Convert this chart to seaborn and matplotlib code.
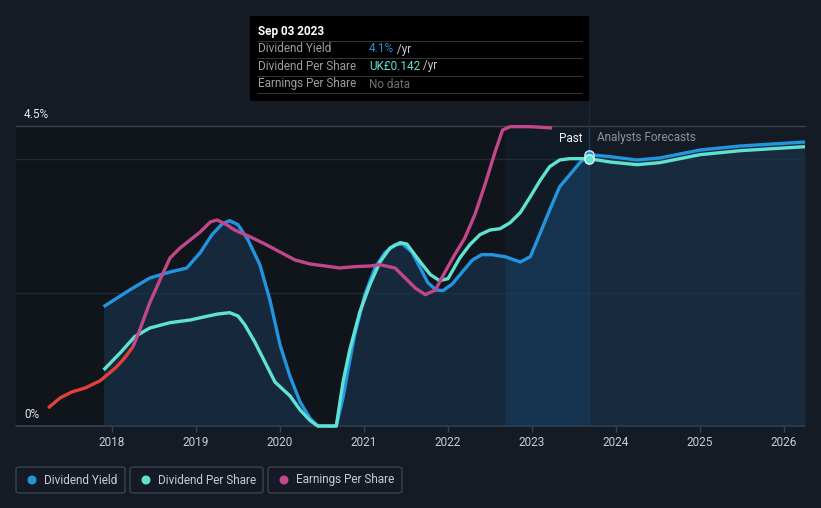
import numpy as np
import pandas as pd
import matplotlib
matplotlib.use("Agg")
import matplotlib.pyplot as plt
import matplotlib.patches as patches
import seaborn as sns

# ---------------- data ----------------
dy_year = [2017.90, 2018.21, 2018.45, 2018.69, 2018.89, 2019.05, 2019.19, 2019.31, 2019.40, 2019.50,
           2019.62, 2019.76, 2019.88, 2020.00, 2020.12, 2020.24, 2020.36, 2020.45, 2020.67, 2020.75,
           2020.81, 2020.89, 2021.01, 2021.13, 2021.25, 2021.37, 2021.46, 2021.57, 2021.67, 2021.76,
           2021.86, 2021.94, 2022.05, 2022.17, 2022.29, 2022.40, 2022.52, 2022.68, 2022.86, 2022.98,
           2023.10, 2023.21, 2023.33, 2023.45, 2023.57, 2023.68, 2023.93, 2024.25, 2024.52, 2025.00,
           2025.48, 2026.25]
dy_value = [1.79, 2.04, 2.22, 2.31, 2.37, 2.60, 2.87, 3.03, 3.08, 3.02,
            2.79, 2.42, 1.89, 1.22, 0.74, 0.36, 0.11, 0.00, 0.00, 0.42,
            0.84, 1.37, 1.97, 2.37, 2.60, 2.72, 2.73, 2.61, 2.37, 2.15,
            2.04, 2.03, 2.13, 2.31, 2.49, 2.57, 2.57, 2.54, 2.46, 2.54,
            2.90, 3.24, 3.59, 3.77, 3.95, 4.07, 4.04, 3.99, 4.02, 4.14,
            4.20, 4.26]

dps_year = [2017.90, 2018.10, 2018.27, 2018.45, 2018.69, 2018.93, 2019.11, 2019.26, 2019.40, 2019.50,
            2019.58, 2019.70, 2019.82, 2019.94, 2020.12, 2020.24, 2020.36, 2020.45, 2020.67, 2020.75,
            2020.83, 2020.95, 2021.07, 2021.19, 2021.31, 2021.43, 2021.51, 2021.67, 2021.79, 2021.90,
            2022.00, 2022.14, 2022.26, 2022.38, 2022.50, 2022.62, 2022.74, 2022.86, 2022.98, 2023.10,
            2023.21, 2023.33, 2023.45, 2023.68, 2023.93, 2024.25, 2024.52, 2025.00, 2025.48, 2026.25]
dps_value = [0.84, 1.10, 1.34, 1.47, 1.55, 1.59, 1.64, 1.68, 1.70, 1.65,
             1.52, 1.26, 0.96, 0.66, 0.45, 0.24, 0.08, 0.00, 0.00, 0.66,
             1.14, 1.71, 2.12, 2.46, 2.67, 2.75, 2.73, 2.46, 2.27, 2.18,
             2.21, 2.52, 2.72, 2.87, 2.94, 2.96, 3.05, 3.20, 3.44, 3.69,
             3.89, 3.99, 4.01, 4.01, 3.96, 3.92, 3.95, 4.07, 4.13, 4.19]

eps_neg_year = [2017.24, 2017.38, 2017.52, 2017.68, 2017.86, 2018.04, 2018.15, 2018.25]
eps_neg_value = [0.27, 0.42, 0.51, 0.57, 0.68, 0.87, 1.02, 1.19]

eps_year = [2018.25, 2018.33, 2018.45, 2018.57, 2018.69, 2018.81, 2018.93, 2019.05, 2019.17, 2019.25,
            2019.35, 2019.46, 2019.64, 2019.82, 2020.00, 2020.18, 2020.36, 2020.54, 2020.71, 2020.89,
            2021.07, 2021.19, 2021.37, 2021.49, 2021.61, 2021.73, 2021.85, 2021.96, 2022.08, 2022.20,
            2022.32, 2022.44, 2022.56, 2022.65, 2022.74, 2022.98, 2023.24]
eps_value = [1.19, 1.44, 1.85, 2.19, 2.52, 2.67, 2.79, 2.91, 3.06, 3.09,
             3.03, 2.94, 2.84, 2.73, 2.61, 2.49, 2.43, 2.40, 2.37, 2.39,
             2.40, 2.42, 2.37, 2.22, 2.07, 1.97, 2.04, 2.30, 2.57, 2.82,
             3.17, 3.62, 4.11, 4.44, 4.49, 4.49, 4.47]

x_ticks = [2018, 2019, 2020, 2021, 2022, 2023, 2024, 2025, 2026]
y_labels = ["0%", "4.5%"]
band_start = 2022.68
today = 2023.68
legend_labels = ["Dividend Yield", "Dividend Per Share", "Earnings Per Share"]

# ---------------- style ----------------
W, H = 821, 508
BG = "#151b25"
PAST_BG = "#10151c"
BLUE = "#2394df"
TEAL = "#5fe3d0"
MAGENTA = "#c0488a"
RED = "#e2403f"

sns.set_theme(style="dark")
plt.rcParams["font.family"] = ["Roboto", "DejaVu Sans"]

fig = plt.figure(figsize=(W / 100, H / 100), dpi=100, facecolor=BG)

def fx(px):
    return px / W

def fy(py):
    return 1 - py / H

ax = fig.add_axes([fx(16), fy(426), fx(805) - fx(16), fy(126) - fy(426)])
ax.set_facecolor(BG)
xmin = 2018 + (16 - 112) / 84
xmax = 2018 + (805 - 112) / 84
ax.set_xlim(xmin, xmax)
ax.set_ylim(0, 4.5)
for s in ax.spines.values():
    s.set_visible(False)
ax.grid(False)

# past background and band
ax.axvspan(xmin, today, color=PAST_BG, zorder=0, lw=0)
ax.axvspan(band_start, today, color="#1565a0", alpha=0.08, zorder=0.5, lw=0)

# gridlines
for v, c in [(2, "#242a33"), (4, "#242a33")]:
    ax.axhline(v, color=c, lw=1, zorder=1)
ax.axhline(4.5, color="#3c424c", lw=1, zorder=1, clip_on=False)
ax.axhline(0, color="#3c424c", lw=1.2, zorder=1, clip_on=False)

# fill under dividend yield
dyx = np.array(dy_year)
dyv = np.array(dy_value)
ax.fill_between(dyx, 0, dyv, color="#1b3550", alpha=0.6, lw=0, zorder=1.5)
mask = (dyx >= band_start - 1e-9) & (dyx <= today + 1e-9)
ax.fill_between(dyx, 0, dyv, where=mask, color="#1565a0", alpha=0.17, lw=0, zorder=1.6)

# today line
ax.axvline(today, color="#1f3a55", lw=1, zorder=1.7)
fig.add_artist(plt.Line2D([fx(589), fx(589)], [fy(101), fy(126)], color="#1c2a38", lw=1))

# lines
df_dy = pd.DataFrame({"year": dy_year, "value": dy_value})
df_dps = pd.DataFrame({"year": dps_year, "value": dps_value})
df_epsn = pd.DataFrame({"year": eps_neg_year, "value": eps_neg_value})
df_eps = pd.DataFrame({"year": eps_year, "value": eps_value})

for df, col in [(df_dy, BLUE), (df_dps, TEAL), (df_epsn, RED), (df_eps, MAGENTA)]:
    sns.lineplot(data=df, x="year", y="value", ax=ax, color=col, lw=2.4,
                 sort=False, estimator=None, zorder=3)
    ln = ax.lines[-1]
    ln.set_clip_on(False)
    ln.set_solid_capstyle("butt")
    ln.set_solid_joinstyle("round")
    ln.set_antialiased(True)

# markers at today
ax.scatter([today], [dy_value[dy_year.index(today)]], s=45, color=BLUE, edgecolor="#cfe6f7",
           lw=1, zorder=4, clip_on=False)
ax.scatter([today], [dps_value[dps_year.index(today)]], s=45, color=TEAL, edgecolor="#e0fbf7",
           lw=1, zorder=4, clip_on=False)

# ticks
ax.set_xticks(x_ticks)
ax.set_xticklabels([str(t) for t in x_ticks])
ax.set_yticks([])
ax.tick_params(axis="x", colors="#3c424c", labelcolor="#c9cdd3", labelsize=8.5,
               length=4, width=1, pad=3, direction="out", bottom=True)
ax.set_xlabel("")
ax.set_ylabel("")

fig.text(fx(24), fy(414), y_labels[0], color="#e6e8eb", fontsize=8.5, va="center", ha="left")
fig.text(fx(24), fy(114), y_labels[1], color="#e6e8eb", fontsize=8.5, va="center", ha="left")

# Past / forecasts labels
fig.text(fx(582), fy(138), "Past", color="#f0f2f4", fontsize=8.5, va="center", ha="right")
fig.text(fx(597), fy(138), "Analysts Forecasts", color="#8c929a", fontsize=8.5, va="center", ha="left")

# tooltip
fig.add_artist(patches.Rectangle((fx(250), fy(101)), fx(589) - fx(250), fy(16) - fy(101),
                                 transform=fig.transFigure, facecolor="#000000", edgecolor="none"))
fig.text(fx(258), fy(31), "Sep 03 2023", color="#ffffff", fontsize=8.5, fontweight="bold",
         va="center", ha="left")
for yy in [41, 58, 76, 93]:
    fig.add_artist(plt.Line2D([fx(257), fx(582)], [fy(yy), fy(yy)], color="#333333", lw=0.8))
rows = [(49, "Dividend Yield", "4.1%", BLUE, " /yr"),
        (66, "Dividend Per Share", "UK£0.142", TEAL, " /yr"),
        (84, "Earnings Per Share", "No data", "#6b7078", "")]
for yy, lab, val, vc, suf in rows:
    fig.text(fx(258), fy(yy), lab, color="#9a9ea5", fontsize=8.5, va="center", ha="left")
    t = fig.text(fx(369), fy(yy), val, color=vc, fontsize=8.5, va="center", ha="left")
    if suf:
        fig.canvas.draw()
        bb = t.get_window_extent()
        fig.text(bb.x1 / W, fy(yy), suf, color="#c8ccd2", fontsize=8.5, va="center", ha="left")

# legend
boxes = [(16, 125, BLUE), (130, 263, TEAL), (268, 402, MAGENTA)]
for (x0, x1, col), lab in zip(boxes, legend_labels):
    fig.add_artist(patches.FancyBboxPatch((fx(x0), fy(493)), fx(x1) - fx(x0), fy(467) - fy(493),
                                          boxstyle="round,pad=0,rounding_size=0.004",
                                          transform=fig.transFigure, facecolor="none",
                                          edgecolor="#3c424c", lw=1))
    fig.add_artist(patches.Ellipse((fx(x0 + 16), fy(480)), 9 / W, 9 / H, transform=fig.transFigure,
                                   facecolor=col, edgecolor="none"))
    fig.text(fx(x0 + 28), fy(480), lab, color="#c9cdd3", fontsize=8.5, va="center", ha="left")

fig.savefig("out.png", dpi=100, facecolor=BG)
